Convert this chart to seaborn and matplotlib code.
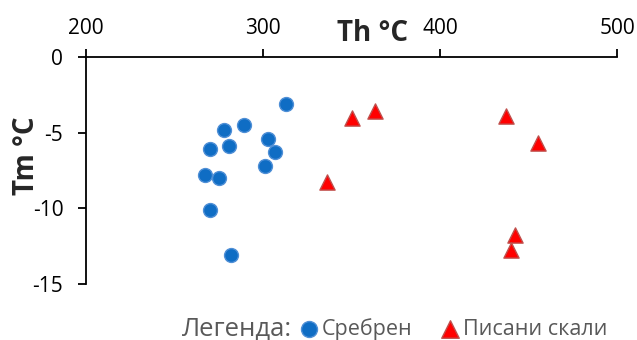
import matplotlib
matplotlib.use("Agg")
import matplotlib.pyplot as plt
import seaborn as sns
import pandas as pd

# Homogenisation temperature (Th) vs. ice melting temperature (Tm)
srebren_th = [313, 289, 278, 281, 270, 303, 307, 301, 267, 275, 270, 282]
srebren_tm = [-3.1, -4.5, -4.8, -5.9, -6.1, -5.4, -6.3, -7.2, -7.8, -8.0, -10.1, -13.1]

pisani_th = [350, 363, 437, 455, 336, 442, 440]
pisani_tm = [-4.05, -3.55, -3.9, -5.65, -8.25, -11.75, -12.75]

series_names = ["Сребрен", "Писани скали"]
x_ticks = [200, 300, 400, 500]
y_ticks = [0, -5, -10, -15]

sns.set_style("white")
plt.rcParams["font.family"] = ["Open Sans", "DejaVu Sans"]
plt.rcParams["axes.unicode_minus"] = False

df_s = pd.DataFrame({"Th": srebren_th, "Tm": srebren_tm})
df_p = pd.DataFrame({"Th": pisani_th, "Tm": pisani_tm})

fig = plt.figure(figsize=(6.37, 3.40), dpi=100)
ax = fig.add_axes([0.135, 0.165, 0.834, 0.667])

sns.scatterplot(data=df_s, x="Th", y="Tm", ax=ax, marker="o", s=100,
                color="#0F6DC4", edgecolor="#4F8FD6", linewidth=1.0,
                label=series_names[0], zorder=3)
sns.scatterplot(data=df_p, x="Th", y="Tm", ax=ax, marker="^", s=120,
                color="#FF0000", edgecolor="#C0504D", linewidth=1.0,
                label=series_names[1], zorder=3)

ax.set_xlim(200, 500)
ax.set_ylim(-15, 0)
ax.set_xticks(x_ticks)
ax.set_yticks(y_ticks)
ax.xaxis.tick_top()
ax.tick_params(axis="both", direction="out", length=5.8, width=1.3,
               color="black", labelsize=15, labelcolor="black")
ax.tick_params(axis="x", top=True, bottom=False, pad=7.5)
ax.tick_params(axis="y", left=True, pad=10.5)

for side in ["right", "bottom"]:
    ax.spines[side].set_visible(False)
for side in ["top", "left"]:
    ax.spines[side].set_visible(True)
    ax.spines[side].set_color("black")
    ax.spines[side].set_linewidth(1.3)

ax.set_xlabel("")
ax.set_ylabel("")
fig.text(27 / 637, 1 - 156 / 340, "Tm °C", fontsize=20, fontweight="bold",
         rotation=90, ha="center", va="center")
fig.text(373 / 637, 1 - 41 / 340, "Th °C", fontsize=20, fontweight="bold",
         ha="center", va="baseline")

handles, labels = ax.get_legend_handles_labels()
if ax.get_legend():
    ax.get_legend().remove()
leg = fig.legend(handles, labels, loc="center left",
                 bbox_to_anchor=(300 / 637, 1 - 329 / 340), ncol=2,
                 frameon=False, fontsize=15.5, handlelength=0.8,
                 handletextpad=0.2, columnspacing=1.35, markerscale=1.15,
                 borderaxespad=0, borderpad=0)
for t in leg.get_texts():
    t.set_color("#595959")
fig.text(292 / 637, 1 - 329 / 340, "Легенда:", fontsize=18.5, color="#595959",
         ha="right", va="center")

fig.savefig("out.png", dpi=100)
